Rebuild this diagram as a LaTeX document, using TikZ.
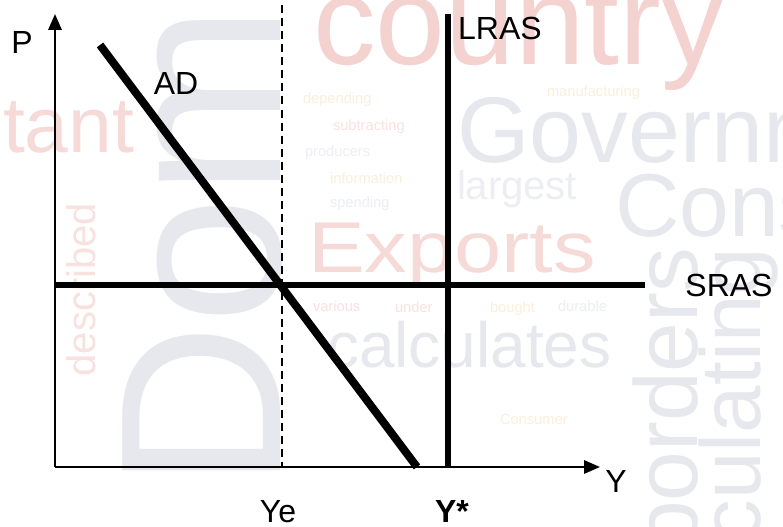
\documentclass[tikz,border=0pt]{standalone}
\usepackage{fontspec}
\setmainfont{Liberation Sans}
\usetikzlibrary{arrows.meta}
\definecolor{bgred}{HTML}{F4D2D0}
\definecolor{bgredl}{HTML}{F6DAD7}
\definecolor{bggray}{HTML}{E6E8ED}
\definecolor{bglgray}{HTML}{E7E8EE}
\definecolor{bgorange}{HTML}{FAEAD2}
\definecolor{smred}{HTML}{F8E2DF}
\definecolor{smgray}{HTML}{EDEEF2}
\definecolor{smorange}{HTML}{FBEFDC}
\newcommand\bgsize[1]{\fontsize{#1}{#1}\selectfont}
\begin{document}
\begin{tikzpicture}[x=0.75pt,y=-0.75pt,
  bgword/.style={inner sep=0pt, outer sep=0pt},
  lbl/.style={inner sep=0pt, anchor=base, font=\bgsize{24pt}},
  axis/.style={line width=1.6pt, -{Triangle[length=12pt,width=10pt]}},
  curve/.style={line width=6pt},
  lras/.style={line width=5pt},
  sras/.style={line width=3.8pt},
  guide/.style={line width=1.1pt, dash pattern=on 6pt off 3.8pt}]
\useasboundingbox (0,0) rectangle (783,527);
\fill[white] (0,0) rectangle (783,527);
\begin{scope}
\clip (0,0) rectangle (783,527);
% background word cloud
\node[bgword, anchor=base west, rotate=90, text=bglgray, font=\bgsize{172pt}] (wDom) at (280,490) {Dom};
\node[bgword, anchor=base west, text=bgred, font=\bgsize{94pt}] (wcountry) at (313,65) {country};
\node[bgword, anchor=base west, text=bggray, font=\bgsize{70pt}] (wgov) at (457,163) {Government};
\node[bgword, anchor=base west, text=bggray, font=\bgsize{67pt}] (wcons) at (615,237) {Consumption};
\node[bgword, anchor=base west, text=bgredl, font=\bgsize{54pt}] (wexp) at (308,273) {\scalebox{1.18}[1]{Exports}};
\node[bgword, anchor=base west, text=bggray, font=\bgsize{48pt}] (wcalc) at (327,368) {calculates};
\node[bgword, anchor=base west, text=smgray, font=\bgsize{30pt}] (wlarg) at (457,200) {largest};
\node[bgword, anchor=base west, text=bgredl, font=\bgsize{59pt}] (wtant) at (3,153) {tant};
\node[bgword, anchor=base east, rotate=90, text=bggray, font=\bgsize{67pt}] (word) at (697,248) {borders};
\node[bgword, anchor=base east, rotate=90, text=bggray, font=\bgsize{64pt}] (wcul) at (760,248) {calculating};
\node[bgword, anchor=base east, rotate=90, text=smred, font=\bgsize{30pt}] (wdesc) at (95,203) {described};
\node[bgword, anchor=base west, text=smorange, font=\bgsize{11pt}] (wdep) at (303,104) {depending};
\node[bgword, anchor=base west, text=smred, font=\bgsize{11pt}] (wsub) at (333,131) {subtracting};
\node[bgword, anchor=base west, text=smgray, font=\bgsize{11pt}] (wprod) at (305,157) {producers};
\node[bgword, anchor=base west, text=smorange, font=\bgsize{11pt}] (winfo) at (330,184) {information};
\node[bgword, anchor=base west, text=smgray, font=\bgsize{11pt}] (wspend) at (330,208) {spending};
\node[bgword, anchor=base west, text=smorange, font=\bgsize{11pt}] (wmanu) at (547,97) {manufacturing};
\node[bgword, anchor=base west, text=smgray, font=\bgsize{11pt}] (wdur) at (558,312) {durable};
\node[bgword, anchor=base west, text=smred, font=\bgsize{11pt}] (wvar) at (313,312) {various};
\node[bgword, anchor=base west, text=smred, font=\bgsize{11pt}] (wund) at (395,313) {under};
\node[bgword, anchor=base west, text=smorange, font=\bgsize{11pt}] (wbou) at (490,313) {bought};
\node[bgword, anchor=base west, text=smorange, font=\bgsize{11pt}] (wcon2) at (500,425) {Consumer};
\end{scope}
% diagram
\coordinate (O) at (55,467);
\coordinate (Ptop) at (55,14);
\coordinate (Yend) at (600,467);
\coordinate (ADa) at (100,45);
\coordinate (ADb) at (417,467);
\coordinate (Ltop) at (448,14);
\coordinate (Lbot) at (448,467);
\coordinate (Sa) at (55,285);
\coordinate (Sb) at (645,285);
\coordinate (Dtop) at (282,5);
\coordinate (Dbot) at (282,467);
\draw[guide] (Dtop) -- (Dbot);
\draw[sras] (Sa) -- (Sb);
\draw[lras] (Ltop) -- (Lbot);
\draw[curve] (ADa) -- (ADb);
\draw[axis] (O) -- (Ptop);
\draw[axis] (O) -- (Yend);
% labels
\node[lbl] (lP) at (22,54) {P};
\node[lbl] (lAD) at (176,95) {AD};
\node[lbl] (lLRAS) at (500,40) {LRAS};
\node[lbl] (lSRAS) at (729,297) {SRAS};
\node[lbl] (lY) at (616,493) {Y};
\node[lbl] (lYe) at (278,523) {Ye};
\node[lbl, font=\bgsize{24pt}\bfseries] (lYs) at (452,523) {Y*};
\end{tikzpicture}
\end{document}
